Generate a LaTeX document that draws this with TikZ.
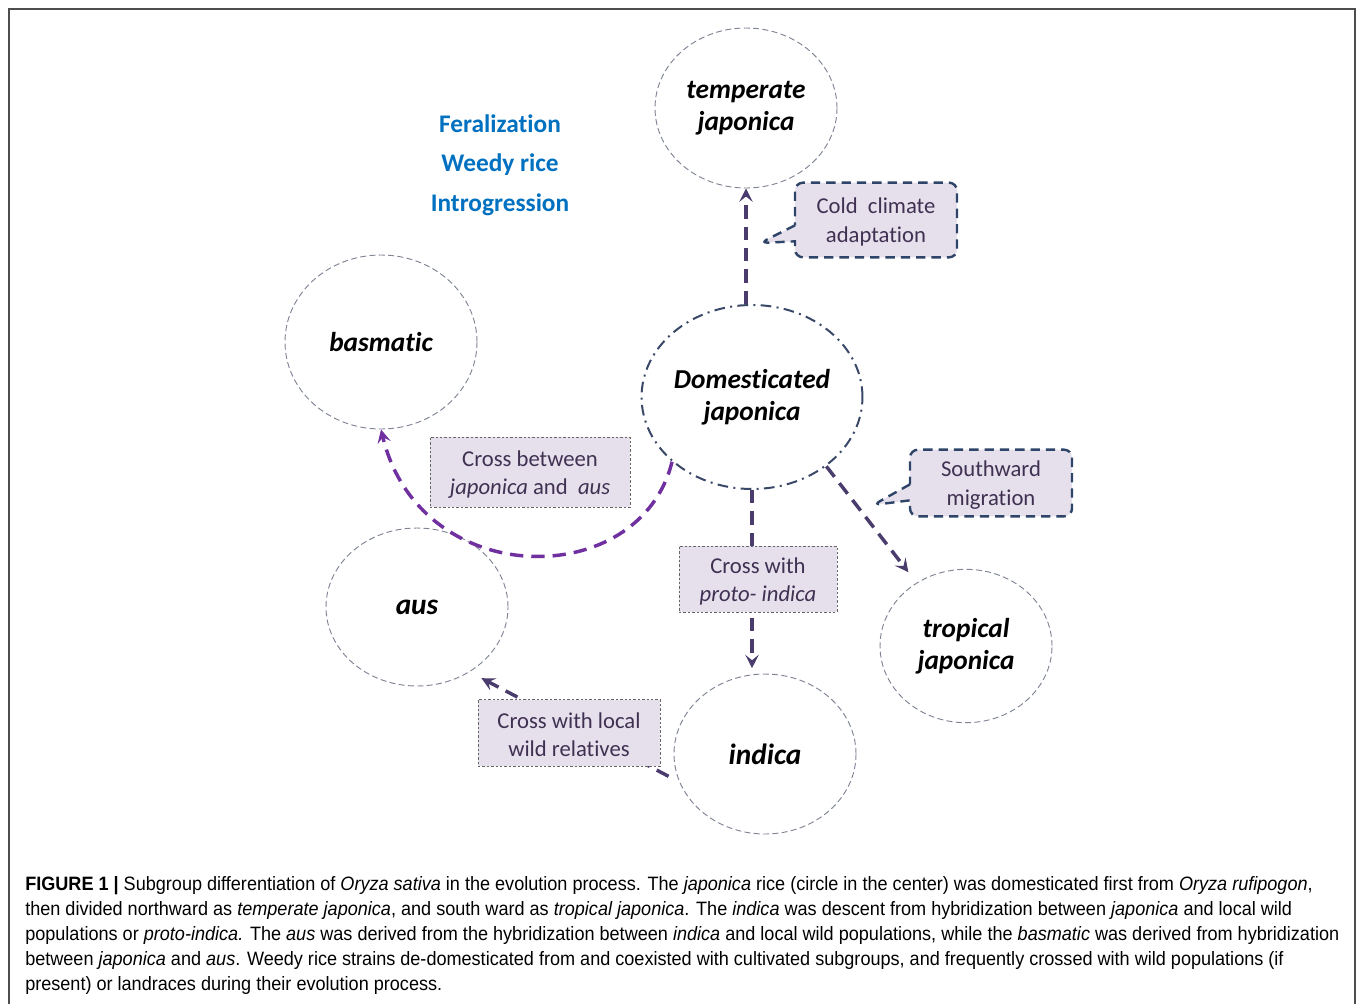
\documentclass[tikz,border=0pt]{standalone}
\usepackage{fontspec}
\setmainfont{Carlito}[Ligatures={NoCommon}]
\newfontfamily\capfont[FakeStretch=0.935]{Liberation Sans}
\usetikzlibrary{shapes.geometric,shapes.callouts,arrows.meta}
\definecolor{lav}{HTML}{E5E0EC}
\definecolor{boxtxt}{HTML}{403152}
\definecolor{arrowc}{HTML}{4A3C6C}
\definecolor{curvec}{HTML}{7030A0}
\definecolor{callb}{HTML}{2E4468}
\definecolor{domc}{HTML}{3A4868}
\definecolor{blu}{HTML}{0070C0}
\definecolor{ring}{HTML}{7F8494}
\definecolor{framec}{HTML}{4D4D4D}
\begin{document}
\begin{tikzpicture}[x=0.75pt,y=-0.75pt,
 group/.style={ellipse, draw=ring, line width=0.7pt, dash pattern=on 4.5pt off 2.5pt, inner sep=0pt, align=center, font=\fontsize{20.5}{24}\selectfont\bfseries\itshape},
 domnode/.style={ellipse, draw=domc, line width=1.5pt, dash pattern=on 8pt off 4pt on 1.5pt off 4pt, inner sep=0pt, align=center, font=\fontsize{20.5}{24}\selectfont\bfseries\itshape},
 callbox/.style={rectangle callout, rounded corners=6pt, fill=lav, draw=callb, line width=1.8pt, dash pattern=on 7pt off 4.5pt, text=boxtxt, align=center, font=\fontsize{17}{21.5}\selectfont, inner sep=0pt, callout pointer width=12pt},
 dotbox/.style={rectangle, fill=lav, draw=gray!80!black, line width=0.6pt, dash pattern=on 1.8pt off 1.5pt, text=boxtxt, align=center, font=\fontsize{17}{21}\selectfont, inner sep=0pt},
 flow/.style={draw=arrowc, line width=2.6pt, dash pattern=on 10pt off 6pt, -{Stealth[length=10pt,width=10pt,inset=4pt]}},
 feral/.style={text=blu, font=\fontsize{19}{22}\selectfont\bfseries},
 capline/.style={anchor=base west, inner sep=0pt, font=\capfont\fontsize{14.5}{18}\selectfont}
]
\useasboundingbox (0,0) rectangle (1358,1003);
\draw[framec, line width=1.5pt] (9,1012) -- (9,9) -- (1355,9) -- (1355,1012);

% blue labels
\node[feral] (fer) at (500,124) {Feralization};
\node[feral] (weed) at (500,165) {Weedy rice};
\node[feral] (intro) at (500,205) {Introgression};

% groups
\node[group, minimum width=136.5pt, minimum height=120pt] (temp) at (746,108) {temperate\\japonica};
\node[group, minimum width=144pt, minimum height=130.5pt] (bas) at (381,342) {basmatic};
\node[group, minimum width=136.5pt, minimum height=118.5pt, font=\fontsize{22}{26}\selectfont\bfseries\itshape] (aus) at (417,607) {aus};
\node[group, minimum width=129pt, minimum height=115pt] (trop) at (966,646) {tropical\\japonica};
\node[group, minimum width=136.5pt, minimum height=120pt, font=\fontsize{22}{26}\selectfont\bfseries\itshape] (ind) at (765,754) {indica};
\node[domnode, minimum width=165pt, minimum height=138pt] (dom) at (752,397) {Domesticated\\japonica};

% connectors
\draw[flow] (temp.south |- dom.north) -- (temp.south);
\draw[flow, shorten >=10pt] (dom.-43) -- (trop.128);
\draw[flow, shorten >=4pt] (dom.south) -- (dom.south |- ind.north);
\draw[flow, draw=curvec] (dom.-141) .. controls (640,592) and (420,592) .. (bas.south);
\draw[flow, shorten <=9pt, shorten >=10pt] (ind.198) -- (aus.-51);

% boxes
\coordinate (pc) at (760,243);
\coordinate (ps) at (873,505);
\node[callbox, callout absolute pointer=(pc), minimum width=121.5pt, minimum height=56pt] (cold) at (876,220) {\rule{0pt}{15pt}Cold\ \ climate\\adaptation};
\node[callbox, callout absolute pointer=(ps), minimum width=121.5pt, minimum height=50pt] (south) at (991,483) {\rule{0pt}{15pt}Southward\\migration};
\node[dotbox, minimum width=150pt, minimum height=52.5pt] (crossa) at (530,472) {\rule{0pt}{15pt}Cross between\\\textit{japonica} and\ \ \textit{aus}};
\node[dotbox, minimum width=118.5pt, minimum height=49.5pt] (crossb) at (758,579) {\rule{0pt}{15pt}Cross with\\\textit{proto- indica}};
\node[dotbox, minimum width=136.5pt, minimum height=50pt] (crossc) at (569,733) {\rule{0pt}{15pt}Cross with local\\wild relatives};

% caption
\node[capline] (c1) at (25,890) {\textbf{FIGURE 1 |} Subgroup differentiation of \textit{Oryza sativa} in the evolution process. The \textit{japonica} rice (circle in the center) was domesticated first from \textit{Oryza rufipogon},};
\node[capline] (c2) at (25,915.2) {then divided northward as \textit{temperate japonica}, and south ward as \textit{tropical japonica}. The \textit{indica} was descent from hybridization between \textit{japonica} and local wild};
\node[capline] (c3) at (25,940.4) {populations or \textit{proto-indica.} The \textit{aus} was derived from the hybridization between \textit{indica} and local wild populations, while the \textit{basmatic} was derived from hybridization};
\node[capline] (c4) at (25,965.6) {between \textit{japonica} and \textit{aus}. Weedy rice strains de-domesticated from and coexisted with cultivated subgroups, and frequently crossed with wild populations (if};
\node[capline] (c5) at (25,990.8) {present) or landraces during their evolution process.};
\end{tikzpicture}
\end{document}
